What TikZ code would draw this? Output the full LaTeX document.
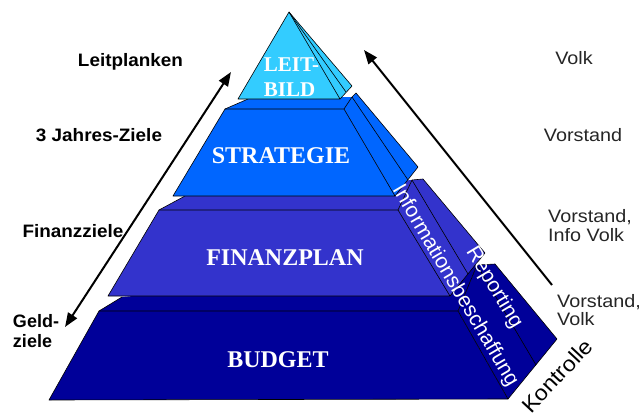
\documentclass[tikz,border=0pt]{standalone}
\usepackage{fontspec}
\setmainfont{Liberation Serif}
\setsansfont{Liberation Sans}
\usetikzlibrary{arrows.meta}
\definecolor{cLeit}{HTML}{33CCFF}
\definecolor{cStrat}{HTML}{0066FF}
\definecolor{cFin}{HTML}{3333CC}
\definecolor{cBud}{HTML}{000099}
\definecolor{cGray}{HTML}{262626}
\newcommand{\hstr}[2]{\scalebox{#1}[1]{#2}}
\begin{document}
\begin{tikzpicture}[x=1pt,y=-1pt,
  edge/.style={draw=black, line width=0.6pt, line join=round},
  layerlabel/.style={text=white, font=\bfseries\fontsize{24}{28}\selectfont, inner sep=0pt},
  leftlabel/.style={font=\sffamily\bfseries\fontsize{18}{19.5}\selectfont, inner sep=0pt, text=black},
  rightlabel/.style={font=\sffamily\fontsize{18}{18.5}\selectfont, inner sep=0pt, text=cGray},
  sidelabel/.style={font=\sffamily\fontsize{21}{24}\selectfont, inner sep=0pt, text=white},
  tipT/.tip={Triangle[length=14pt,width=10.5pt]},
  bigarrow/.style={line width=2pt, -tipT},
  dblarrow/.style={line width=2pt, tipT-tipT}
]
\useasboundingbox (0,0) rectangle (643,418);
\fill[white] (0,0) rectangle (643,418);

% BUDGET layer
\fill[cBud] (99,311)--(458,311)--(508,399)--(49,400)--cycle;
\fill[cBud] (99,311)--(122,297)--(477,265)--(458,311)--cycle;
\fill[cBud] (458,311)--(477,265)--(495,264)--(557,339)--(508,399)--cycle;
\draw[edge] (99,311)--(458,311)--(508,399)--(49,400)--cycle;
\draw[edge] (99,311)--(122,297);
\draw[edge] (458,311)--(477,265)--(495,264)--(557,339)--(508,399);
\draw[edge] (477,265)--(536,365);

% FINANZPLAN layer
\fill[cFin] (159,210)--(398,210)--(450,296)--(108,296)--cycle;
\fill[cFin] (159,210)--(185,196)--(412,180)--(398,210)--cycle;
\fill[cFin] (398,210)--(412,180)--(423,179)--(485,253)--(450,296)--cycle;
\draw[edge] (159,210)--(398,210)--(450,296)--(108,296)--cycle;
\draw[edge] (159,210)--(185,196);
\draw[edge] (398,210)--(412,180)--(423,179)--(485,253)--(450,296);
\draw[edge] (412,180)--(468,274);

% STRATEGIE layer
\fill[cStrat] (225,109)--(344,109)--(395,196)--(173,196)--cycle;
\fill[cStrat] (225,109)--(248,99)--(352,97)--(344,109)--cycle;
\fill[cStrat] (344,109)--(352,97)--(356,93)--(418,167)--(395,196)--cycle;
\draw[edge] (225,109)--(344,109)--(395,196)--(173,196)--cycle;
\draw[edge] (225,109)--(248,99);
\draw[edge] (344,109)--(352,97)--(356,93)--(418,167)--(395,196);
\draw[edge] (352,97)--(408,180);

% LEITBILD top
\fill[cLeit] (289,12)--(238,99)--(340,99)--(352,86)--cycle;
\draw[edge] (289,12)--(238,99)--(340,99)--cycle;
\draw[edge] (340,99)--(352,86)--(289,12);
\draw[edge] (289,12)--(346,92);

% layer labels
\node[layerlabel, align=left, font=\bfseries\fontsize{21}{25}\selectfont] (leit) at (291.5,77.5) {LEIT-\\BILD};
\node[layerlabel] (strat) at (281,156) {STRATEGIE};
\node[layerlabel] (fin) at (285,257.5) {FINANZPLAN};
\node[layerlabel] (bud) at (278,359.5) {BUDGET};

% side labels
\node[sidelabel, rotate=-59.5] (info) at (455,286) {Informationsbeschaffung};
\node[sidelabel, rotate=-59] (rep) at (494,288) {Reporting};
\node[font=\sffamily\fontsize{21.5}{24}\selectfont, text=black, inner sep=0pt, rotate=47] (kon) at (557,376) {\hstr{1.08}{Kontrolle}};

% left labels
\node[leftlabel, anchor=base] (lp) at (130.5,66) {\hstr{1.05}{Leitplanken}};
\node[leftlabel, anchor=base] (jz) at (99,141) {\hstr{1.05}{3 Jahres-Ziele}};
\node[leftlabel, anchor=base] (fz) at (73,237) {\hstr{1.05}{Finanzziele}};
\node[leftlabel, align=left] (gz) at (36,331) {Geld-\\ziele};

% right labels
\node[rightlabel, anchor=base] (r1) at (574,64) {\hstr{1.1}{Volk}};
\node[rightlabel, anchor=base] (r2) at (583,141) {\hstr{1.1}{Vorstand}};
\node[rightlabel, align=left] (r3) at (590,225.5) {\hstr{1.1}{Vorstand,}\\\hstr{1.1}{Info Volk}};
\node[rightlabel, align=left] (r4) at (599,310) {\hstr{1.1}{Vorstand,}\\\hstr{1.1}{Volk}};

% arrows
\coordinate (la1) at (231,72);
\coordinate (la2) at (65,327);
\draw[dblarrow] (la2) -- (la1);
\coordinate (ra1) at (552,285);
\coordinate (ra2) at (364,50);
\draw[bigarrow] (ra1) -- (ra2);
\end{tikzpicture}
\end{document}
